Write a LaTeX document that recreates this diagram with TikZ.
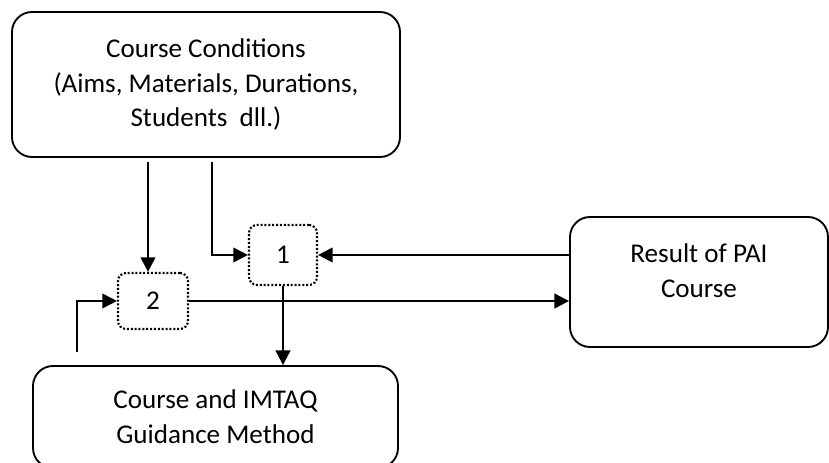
\documentclass[tikz,border=0pt]{standalone}
\usepackage{fontspec}
\setmainfont{Carlito}
\usepackage{tikz}
\usetikzlibrary{arrows.meta}
\usetikzlibrary{calc,positioning}

\begin{document}
\begin{tikzpicture}[x=0.75pt,y=-0.75pt]
			\useasboundingbox (0,0) rectangle (829,463);

			\begin{scope}[every node/.style={draw,line width=1.4pt,rounded corners=15pt,align=center,
				font=\fontsize{20.3}{26}\selectfont}]
				\node[minimum width=291pt,minimum height=108.75pt] (cond) at (206,84.5) {Course Conditions\\(Aims, Materials, Durations,\\Students\ \ dll.)};
				\node[minimum width=193.5pt,minimum height=97.5pt] (result) at (699,282) {Result of PAI\\Course\\[-9pt]\mbox{}};
				\node[minimum width=273.75pt,minimum height=76.5pt] (guide) at (215.5,417) {Course and IMTAQ\\Guidance Method};
			\end{scope}

			\begin{scope}[every node/.style={draw,line width=1.6pt,dash pattern=on 1.5pt off 1.4pt,
				rounded corners=6pt,font=\fontsize{20.3}{24}\selectfont}]
				\node[minimum width=51pt,minimum height=45pt] (one) at (283,255) {1};
				\node[minimum width=52.5pt,minimum height=42pt] (two) at (153,301) {2};
			\end{scope}

			\coordinate (c1) at (148,162);
			\coordinate (c2) at (212,162);
			\coordinate (c3) at (77,352);

			\begin{scope}[>={Triangle[length=11pt,width=11pt]},line width=1.5pt]
				\draw[->] (c1) -- (c1 |- two.north);
				\draw[->] (c2) |- (one.west);
				\draw[->] (result.west |- one.east) -- (one.east);
				\draw[->] (two.east) -- (two.east -| result.west);
				\draw[->] (one.south) -- (one.south |- guide.north);
				\draw[->] (c3) |- (two.west);
			\end{scope}
		\end{tikzpicture}
\end{document}
